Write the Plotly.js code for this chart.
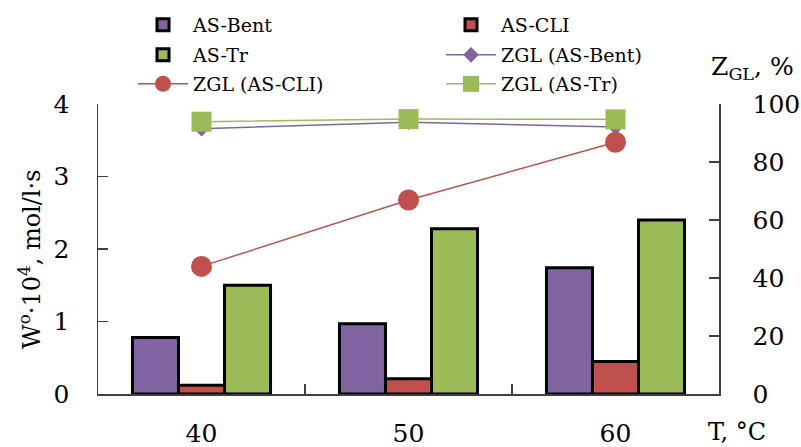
<!DOCTYPE html>
<html>
<head>
<meta charset="utf-8">
<script src="https://cdn.plot.ly/plotly-3.0.1.min.js"></script>
<style>html,body{margin:0;padding:0;background:#fff;}#chart{width:801px;height:447px;}</style>
</head>
<body>
<div id="chart"></div>
<script>
// Data
var temperatures = ['40', '50', '60'];
var rateBent = [0.78, 0.97, 1.74];
var rateCLI = [0.12, 0.21, 0.45];
var rateTr = [1.50, 2.28, 2.40];
var zglBent = [91.5, 93.7, 92.1];
var zglCLI = [44.0, 66.9, 86.8];
var zglTr = [93.9, 94.8, 94.7];

var purple = '#8064A2', red = '#C0504D', green = '#9BBB59';
var FONT = 'DejaVu Serif';

function barTrace(name, vals, color, leg) {
  return {type: 'bar', name: name, x: temperatures, y: vals, yaxis: 'y',
    marker: {color: color, line: {color: '#000', width: 3}}, legend: leg, hoverinfo: 'skip'};
}
function lineTrace(name, vals, color, symbol, size, leg) {
  return {type: 'scatter', mode: 'lines+markers', name: name, x: temperatures, y: vals, yaxis: 'y2',
    line: {color: color, width: 1.5}, marker: {color: color, symbol: symbol, size: size},
    cliponaxis: false, legend: leg, hoverinfo: 'skip'};
}

var data = [
  barTrace('AS-Bent', rateBent, purple, 'legend'),
  barTrace('AS-CLI', rateCLI, red, 'legend2'),
  barTrace('AS-Tr', rateTr, green, 'legend3'),
  lineTrace('ZGL (AS-Bent)', zglBent, purple, 'diamond', 12, 'legend4'),
  lineTrace('ZGL (AS-CLI)', zglCLI, red, 'circle', 21, 'legend5'),
  lineTrace('ZGL (AS-Tr)', zglTr, green, 'square', 20, 'legend6')
];

function leg(xpx, ypx) {
  return {xref: 'container', yref: 'container', x: xpx / 801, y: 1 - ypx / 447,
    xanchor: 'left', yanchor: 'middle', orientation: 'h', bgcolor: 'rgba(0,0,0,0)',
    font: {family: FONT, size: 19, color: '#000'}, itemwidth: 50};
}

var layout = {
  width: 801, height: 447,
  margin: {l: 98, r: 82, t: 104, b: 53},
  paper_bgcolor: '#fff', plot_bgcolor: '#fff',
  font: {family: FONT, color: '#000'},
  barmode: 'group', bargap: 0.333, bargroupgap: 0,
  showlegend: true,
  legend: leg(133, 25), legend2: leg(441, 25),
  legend3: leg(133, 55), legend4: leg(441, 55),
  legend5: leg(133, 84), legend6: leg(441, 84),
  xaxis: {type: 'category', range: [-0.5, 2.5], tickson: 'boundaries', ticks: 'inside', ticklen: 10,
    tickcolor: '#404040', tickwidth: 1.5, showline: true, linecolor: '#404040', linewidth: 1.5,
    showgrid: false, zeroline: false, tickfont: {family: FONT, size: 25, color: '#000'},
    ticklabelstandoff: 16, fixedrange: true},
  yaxis: {range: [0, 4], dtick: 1, ticks: 'inside', ticklen: 10, tickcolor: '#404040', tickwidth: 1.5,
    showline: true, linecolor: '#404040', linewidth: 1.5, showgrid: false, zeroline: false,
    tickfont: {family: FONT, size: 25, color: '#000'}, ticklabelstandoff: 22, fixedrange: true},
  yaxis2: {overlaying: 'y', side: 'right', range: [0, 100], dtick: 20, ticks: 'inside', ticklen: 10,
    tickcolor: '#404040', tickwidth: 1.5, showline: true, linecolor: '#404040', linewidth: 1.5,
    showgrid: false, zeroline: false, tickfont: {family: FONT, size: 25, color: '#000'},
    ticklabelstandoff: 27, fixedrange: true},
  annotations: [
    {xref: 'paper', yref: 'paper', x: (30 - 98) / 621, y: (394 - 259) / 290, xanchor: 'center', yanchor: 'middle',
      textangle: -90, showarrow: false, text: 'W<sup>o</sup>·10<sup>4</sup>, mol/l·s',
      font: {family: FONT, size: 24, color: '#000'}},
    {xref: 'paper', yref: 'paper', x: (752 - 98) / 621, y: (394 - 68) / 290, xanchor: 'center', yanchor: 'middle',
      showarrow: false, text: 'Z<sub>GL</sub>, %', font: {family: FONT, size: 25, color: '#000'}},
    {xref: 'paper', yref: 'paper', x: (737 - 98) / 621, y: (394 - 432) / 290, xanchor: 'center', yanchor: 'middle',
      showarrow: false, text: 'T, °C', font: {family: FONT, size: 24, color: '#000'}}
  ]
};

Plotly.newPlot('chart', data, layout, {staticPlot: true});
</script>
</body>
</html>
